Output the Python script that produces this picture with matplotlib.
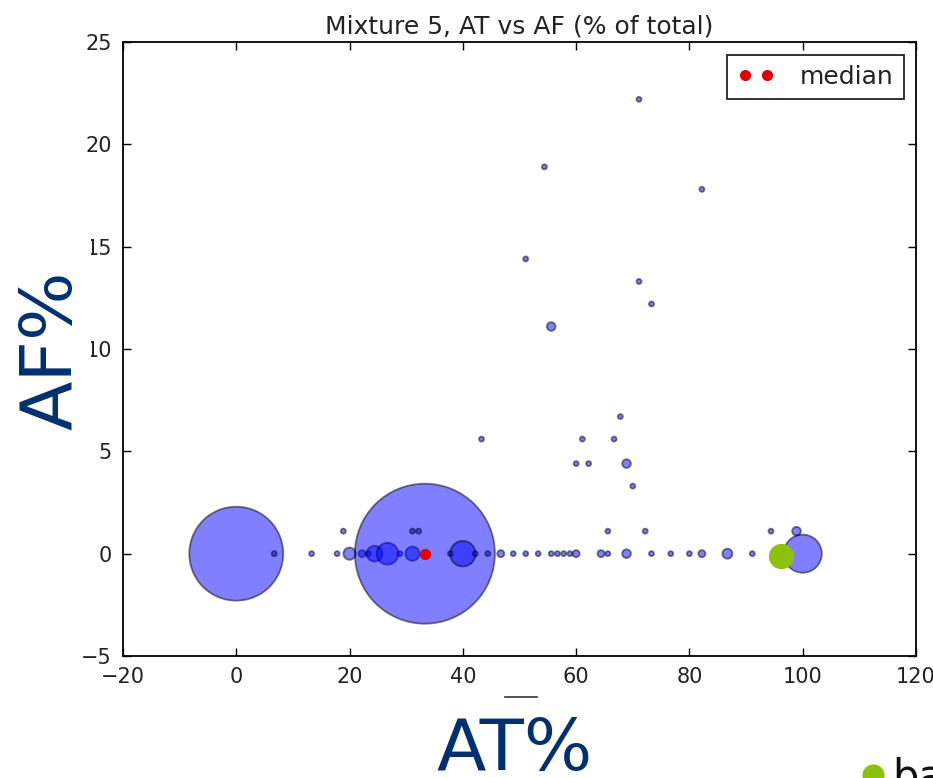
import matplotlib
matplotlib.use("Agg")
import matplotlib.pyplot as plt
from matplotlib.patches import Rectangle
from matplotlib.lines import Line2D

# AT% / AF% per cluster, and how many samples fall in each cluster
at_pct = [0.0, 6.7, 13.3, 17.8, 20.0, 22.2, 23.3, 24.4, 26.7, 28.9, 31.1, 33.3,
          37.8, 40.0, 42.2, 44.4, 46.7, 48.9, 51.1, 53.3, 55.6, 56.7, 57.8, 58.9,
          60.0, 64.4, 65.6, 68.9, 73.3, 76.7, 80.0, 82.2, 86.7, 91.1, 100.0,
          18.9, 31.1, 32.2, 65.6, 72.2, 94.4, 98.9,
          70.0, 60.0, 62.2, 68.9, 43.3, 61.1, 66.7, 67.8,
          55.6, 73.3, 71.1, 51.1, 82.2, 54.4, 71.1]
af_pct = [0.0] * 35 + \
         [1.1] * 7 + \
         [3.3, 4.4, 4.4, 4.4, 5.6, 5.6, 5.6, 6.7,
          11.1, 12.2, 13.3, 14.4, 17.8, 18.9, 22.2]
counts = [352, 1, 1, 1, 6, 2, 1, 10, 19, 1, 8, 782,
          1, 26, 1, 1, 2, 1, 1, 1, 1, 1, 1, 1,
          2, 2, 1, 3, 1, 1, 1, 2, 4, 1, 58,
          1, 1, 1, 1, 1, 1, 3,
          1, 1, 1, 3, 1, 1, 1, 1,
          3, 1, 1, 1, 1, 1, 1]

median_at = [33.3]
median_af = [0.0]

# green slide pointer
pointer_at = [96.1]
pointer_af = [-0.13]

SIZE_PER_COUNT = 13

plt.rcParams['font.family'] = 'DejaVu Sans'
fig = plt.figure(figsize=(9.33, 7.78), dpi=100)
ax = fig.add_axes([0.1318, 0.1568, 0.8500, 0.7892])

ax.scatter(at_pct, af_pct, s=[c * SIZE_PER_COUNT for c in counts],
           c='b', alpha=0.5, edgecolors='k', linewidths=1.3, zorder=2)
ax.plot(median_at, median_af, 'o', color='#e00000', markersize=8,
        markeredgewidth=0, label='median', zorder=3)
ax.scatter(pointer_at, pointer_af, s=330, color='#8cc20c', zorder=4,
           linewidths=0)

ax.set_xlim(-20, 120)
ax.set_ylim(-5, 25)
ax.set_xticks(range(-20, 121, 20))
ax.set_yticks(range(-5, 26, 5))
ax.tick_params(direction='in', length=6, width=1, top=True, right=True,
               labelsize=15, labelcolor='#222222', pad=8)
for sp in ax.spines.values():
    sp.set_linewidth(1.3)
ax.set_title('Mixture 5, AT vs AF (% of total)', fontsize=18,
             color='#222222', pad=6)

leg = ax.legend(loc='upper right', numpoints=2, fontsize=18,
                handlelength=1.5, handletextpad=1.0, fancybox=False,
                framealpha=1, borderaxespad=0.5, borderpad=0.4)
leg.get_frame().set_edgecolor('#222222')
leg.get_frame().set_linewidth(1.3)
for t in leg.get_texts():
    t.set_color('#222222')

# slide overlays: white patch behind the big axis words
fig.add_artist(Rectangle((0, 0.36), 91 / 933, 0.36, transform=fig.transFigure,
                         facecolor='white', edgecolor='none', zorder=5))
fig.add_artist(Line2D([505 / 933, 537 / 933], [1 - 697 / 778, 1 - 697 / 778],
                      transform=fig.transFigure, color='#333333', lw=1.2,
                      zorder=5))

navy = '#00306e'
fig.text(515 / 933, 1 - 770 / 778, 'AT%', ha='center', va='baseline',
         fontsize=52, color=navy, zorder=6)
fig.text(52 / 933, 1 - 350 / 778, 'AF%', ha='center', va='center',
         rotation=90, fontsize=52, color=navy, zorder=6)

fig.add_artist(Line2D([873 / 933], [1 - 775 / 778], marker='o',
                      markersize=15, color='#8cc20c', linestyle='none',
                      transform=fig.transFigure, zorder=6))
fig.text(892 / 933, 1 - 790 / 778, 'ba', ha='left', va='baseline',
         fontsize=30, color='#111111', zorder=6)

fig.savefig('out.png', dpi=100)
